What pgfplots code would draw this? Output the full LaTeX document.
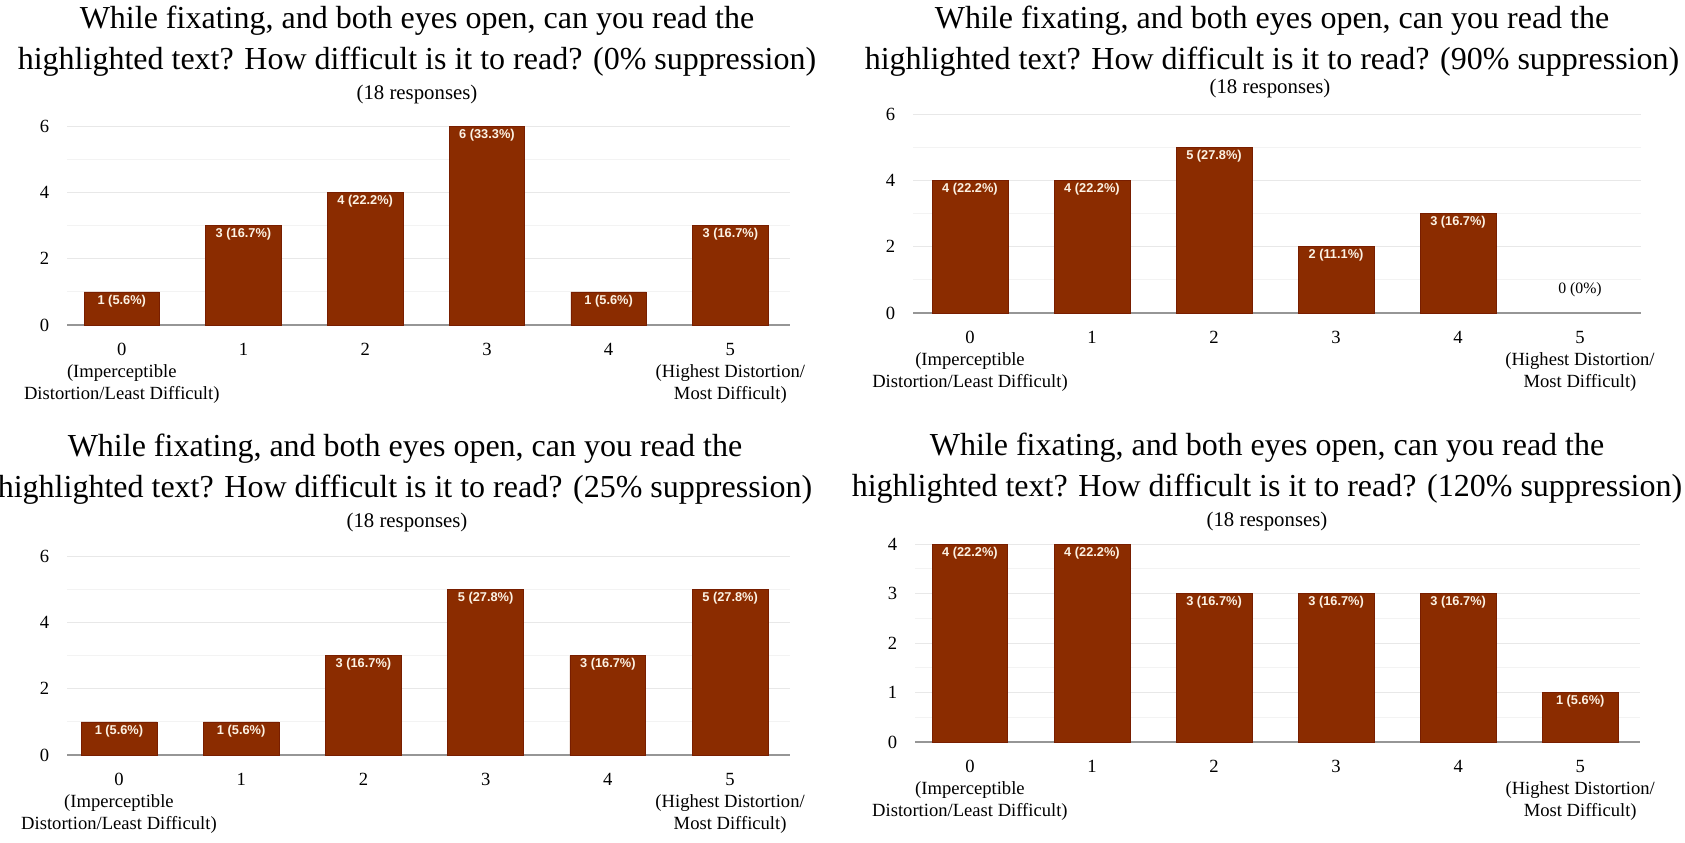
\documentclass[border=0pt]{standalone}
\usepackage{pgfplots}
\pgfplotsset{compat=1.18}
\usepackage{fontspec}
\setmainfont{Liberation Serif}
\newfontfamily\barfont{Liberation Sans}

\definecolor{barcol}{RGB}{139,44,0}
\definecolor{baregde}{RGB}{120,30,0}
\definecolor{labcol}{RGB}{252,242,228}
\definecolor{basegray}{RGB}{150,150,150}
\definecolor{gridmaj}{RGB}{232,232,232}
\definecolor{gridmin}{RGB}{243,243,243}

\pgfplotsset{
  panel/.style={
    scale only axis,
    ybar, bar width=0.62, bar shift=0pt, ymin=0,
    axis x line=bottom, axis y line=left,
    x axis line style={-, draw=basegray, line width=1pt},
    y axis line style={draw=none},
    major tick length=0pt, minor tick length=0pt,
    xtick={0,...,5},
    xticklabels={{0\\(Imperceptible\\Distortion/Least Difficult)},1,2,3,4,{5\\(Highest Distortion/\\Most Difficult)}},
    ymajorgrids, yminorgrids, minor y tick num=1,
    major grid style={draw=gridmaj, line width=0.5pt},
    minor grid style={draw=gridmin, line width=0.5pt},
    tick label style={font=\fontsize{9.3}{11}\selectfont},
    xticklabel style={align=center, yshift=-5.5pt},
    yticklabel style={xshift=-5.4pt},
    /pgf/number format/assume math mode=true,
    clip=false,
  },
  bars/.style={
    fill=barcol, draw=baregde, line width=0.3pt,
    nodes near coords, point meta=explicit symbolic,
    every node near coord/.append style={font=\barfont\bfseries\fontsize{6.4}{7}\selectfont,
      text=labcol, inner sep=0pt, yshift=-7.6pt},
  },
}

\begin{document}
\begin{tikzpicture}
\useasboundingbox (0,0) rectangle (842.5pt,-421pt);

% titles
\begin{scope}[every node/.style={align=center, font=\fontsize{16}{20.5}\selectfont}]
\node at (208.5pt,-20.8pt) {While fixating, and both eyes open, can you read the\\highlighted text? How difficult is it to read? (0\% suppression)};
\node at (636pt,-20.5pt) {While fixating, and both eyes open, can you read the\\highlighted text? How difficult is it to read? (90\% suppression)};
\node at (202.5pt,-234.75pt) {While fixating, and both eyes open, can you read the\\highlighted text? How difficult is it to read? (25\% suppression)};
\node at (633.5pt,-234.2pt) {While fixating, and both eyes open, can you read the\\highlighted text? How difficult is it to read? (120\% suppression)};
\end{scope}
\begin{scope}[every node/.style={font=\fontsize{10.4}{12}\selectfont}]
\node at (208.5pt,-47pt) {(18 responses)};
\node at (635pt,-44pt) {(18 responses)};
\node at (203.5pt,-261pt) {(18 responses)};
\node at (633.5pt,-260.5pt) {(18 responses)};
\end{scope}

% 0% suppression
\begin{axis}[panel, at={(33.5pt,-162.5pt)}, anchor=south west,
  width=361.5pt, height=99.5pt, xmin=-0.45, xmax=5.49, ymax=6, ytick={0,2,4,6}]
\addplot[bars] coordinates {
  (0,1) [1 (5.6\%)]
  (1,3) [3 (16.7\%)]
  (2,4) [4 (22.2\%)]
  (3,6) [6 (33.3\%)]
  (4,1) [1 (5.6\%)]
  (5,3) [3 (16.7\%)]
};
\end{axis}

% 90% suppression
\begin{axis}[panel, at={(456.5pt,-156.5pt)}, anchor=south west,
  width=364pt, height=99.5pt, xmin=-0.467, xmax=5.5, ymax=6, ytick={0,2,4,6}]
\addplot[bars] coordinates {
  (0,4) [4 (22.2\%)]
  (1,4) [4 (22.2\%)]
  (2,5) [5 (27.8\%)]
  (3,2) [2 (11.1\%)]
  (4,3) [3 (16.7\%)]
};
\addplot[draw=none, fill=none, nodes near coords, point meta=explicit symbolic,
  every node near coord/.append style={font=\fontsize{7.9}{9}\selectfont, text=black,
    inner sep=0pt, yshift=7.9pt}] coordinates {(5,0) [0 (0\%)]};
\end{axis}

% 25% suppression
\begin{axis}[panel, at={(33.5pt,-377.5pt)}, anchor=south west,
  width=361.5pt, height=99.5pt, xmin=-0.425, xmax=5.49, ymax=6, ytick={0,2,4,6}]
\addplot[bars] coordinates {
  (0,1) [1 (5.6\%)]
  (1,1) [1 (5.6\%)]
  (2,3) [3 (16.7\%)]
  (3,5) [5 (27.8\%)]
  (4,3) [3 (16.7\%)]
  (5,5) [5 (27.8\%)]
};
\end{axis}

% 120% suppression
\begin{axis}[panel, at={(457.5pt,-371pt)}, anchor=south west,
  width=362.5pt, height=99pt, xmin=-0.45, xmax=5.49, ymax=4, ytick={0,1,2,3,4}]
\addplot[bars] coordinates {
  (0,4) [4 (22.2\%)]
  (1,4) [4 (22.2\%)]
  (2,3) [3 (16.7\%)]
  (3,3) [3 (16.7\%)]
  (4,3) [3 (16.7\%)]
  (5,1) [1 (5.6\%)]
};
\end{axis}
\end{tikzpicture}
\end{document}
